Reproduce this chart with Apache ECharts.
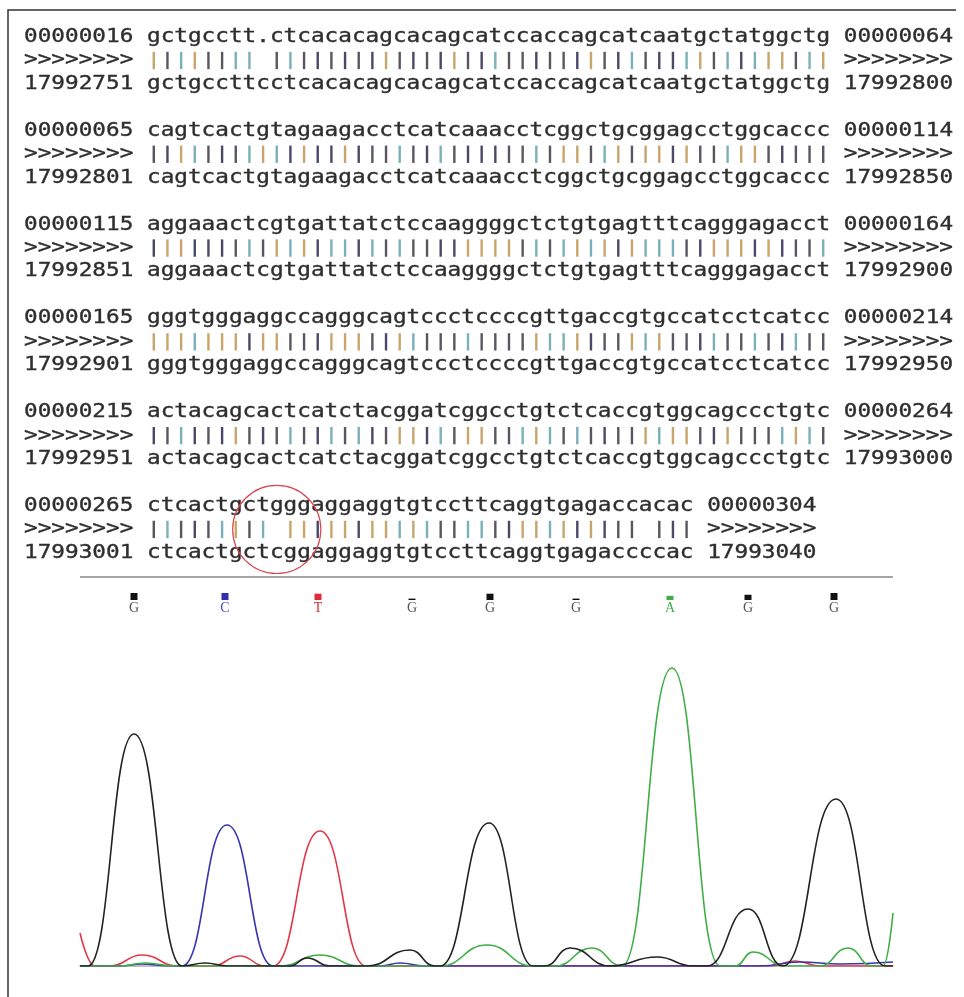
<!DOCTYPE html>
<html>
<head>
<meta charset="utf-8">
<title>Alignment and sequencing trace</title>
<script src="https://cdn.jsdelivr.net/npm/echarts@6/dist/echarts.min.js"></script>
<style>
html, body { margin: 0; padding: 0; background: #fff; }
#main { width: 964px; height: 997px; }
</style>
</head>
<body>
<div id="main"></div>
<script>
// alignment blocks (query vs genome)
var queryStart = ['00000016', '00000065', '00000115', '00000165', '00000215', '00000265'];
var queryEnd   = ['00000064', '00000114', '00000164', '00000214', '00000264', '00000304'];
var subjStart  = ['17992751', '17992801', '17992851', '17992901', '17992951', '17993001'];
var subjEnd    = ['17992800', '17992850', '17992900', '17992950', '17993000', '17993040'];
var querySeq = [
    'gctgcctt.ctcacacagcacagcatccaccagcatcaatgctatggctg',
    'cagtcactgtagaagacctcatcaaacctcggctgcggagcctggcaccc',
    'aggaaactcgtgattatctccaaggggctctgtgagtttcagggagacct',
    'gggtgggaggccagggcagtccctccccgttgaccgtgccatcctcatcc',
    'actacagcactcatctacggatcggcctgtctcaccgtggcagccctgtc',
    'ctcactgctgggaggaggtgtccttcaggtgagaccacac'
];
var subjSeq = [
    'gctgccttcctcacacagcacagcatccaccagcatcaatgctatggctg',
    'cagtcactgtagaagacctcatcaaacctcggctgcggagcctggcaccc',
    'aggaaactcgtgattatctccaaggggctctgtgagtttcagggagacct',
    'gggtgggaggccagggcagtccctccccgttgaccgtgccatcctcatcc',
    'actacagcactcatctacggatcggcctgtctcaccgtggcagccctgtc',
    'ctcactgctcggaggaggtgtccttcaggtgagaccccac'
];
// circled mismatch: block index, position in block
var markBlock = 5;
var markPos = 9;

// base calls above the trace
var callPos  = [54, 145, 238, 332, 410, 496, 590, 668, 754];
var callBase = ['G', 'C', 'T', 'G', 'G', 'G', 'A', 'G', 'G'];
var callQual = [40, 40, 36, 8, 36, 8, 24, 30, 40];

// trace extrema: [scan, signal]
var traceG = [[0,0],[8,0],[54,232],[102,0],[125,3],[148,0],[210,0],[227,8],[250,0],[287,0],[330,16],[355,0],[360,0],[409,143],[453,0],[465,0],[490,18],[530,0],[577,9],[613,0],[627,0],[668,57],[703,0],[756,167],[805,0],[813,0]];
var traceA = [[0,0],[40,0],[65,3],[95,0],[200,0],[240,11],[280,0],[360,0],[407,21],[453,0],[475,0],[512,18],[542,0],[592,298],[640,0],[655,0],[673,14],[705,0],[740,0],[768,18],[792,0],[803,0],[813,53]];
var traceC = [[0,0],[40,0],[62,2],[90,0],[102,0],[147,141],[193,0],[300,0],[320,3],[345,0],[680,0],[720,4],[760,2],[813,4]];
var traceT = [[0,33],[15,0],[30,0],[62,11],[98,0],[132,0],[160,10],[185,0],[193,0],[240,135],[286,0],[690,0],[715,5],[740,0],[813,0]];

var FONT = 19;
var barColor = { a: '#4a4868', c: '#5a5660', g: '#c8a56a', t: '#7ab0b8' };
var traceColor = { G: '#222222', A: '#3fae45', C: '#3636b0', T: '#e23848' };
var callColor = { G: '#111111', A: '#3fae45', C: '#2f2fb0', T: '#e02a3a' };
var letterColor = { G: '#555555', A: '#3fae45', C: '#4a4ac0', T: '#e02a3a' };

var chart = echarts.init(document.getElementById('main'));

function renderBlock(params, api) {
    var b = api.value(0);
    var r0 = b * 4;
    var colW = api.size([1, 0])[0];
    var rowH = api.size([0, 1])[1];
    var sx = colW / (0.602 * FONT);
    var q = querySeq[b], s = subjSeq[b];
    var children = [];

    function text(str, col, r) {
        var pt = api.coord([col, r0 + r]);
        children.push({
            type: 'text',
            x: pt[0], y: pt[1],
            scaleX: sx,
            style: {
                text: str, x: 0, y: 0,
                fill: '#2e2e2e',
                stroke: '#2e2e2e', lineWidth: 0.35,
                font: FONT + 'px "DejaVu Sans Mono"',
                align: 'left', verticalAlign: 'middle'
            }
        });
    }
    text(queryStart[b] + ' ' + q + ' ' + queryEnd[b], 0, 0);
    text('>>>>>>>>', 0, 1);
    text('>>>>>>>>', 9 + q.length + 1, 1);
    text(subjStart[b] + ' ' + s + ' ' + subjEnd[b], 0, 2);

    for (var i = 0; i < q.length; i++) {
        if (q[i] !== s[i]) continue;
        var c = api.coord([9 + i + 0.5, r0 + 1]);
        children.push({
            type: 'rect',
            shape: { x: c[0] - 1.2, y: c[1] - rowH * 0.37, width: 2.4, height: rowH * 0.74 },
            style: { fill: barColor[q[i]] }
        });
    }
    if (b === markBlock) {
        var m = api.coord([9 + markPos + 0.5, r0 + 1]);
        children.push({
            type: 'circle',
            shape: { cx: m[0], cy: m[1], r: rowH * 1.88 },
            style: { fill: 'none', stroke: '#d9474f', lineWidth: 1.2 }
        });
    }
    return { type: 'group', children: children };
}

function renderCall(params, api) {
    var i = api.value(1);
    var base = callBase[i];
    var x = api.coord([api.value(0), 0])[0];
    var top = params.coordSys.y;
    var h = Math.max(1.4, callQual[i] / 40 * 7);
    return {
        type: 'group',
        children: [
            {
                type: 'rect',
                shape: { x: x - 3.5, y: top - 66 - h, width: 7, height: h },
                style: { fill: callColor[base] }
            },
            {
                type: 'text',
                x: x, y: top - 58,
                style: {
                    text: base, fill: letterColor[base],
                    font: '14px "Liberation Serif"',
                    align: 'center', verticalAlign: 'middle'
                }
            }
        ]
    };
}

function traceSeries(data, base) {
    return {
        type: 'line',
        xAxisIndex: 1,
        yAxisIndex: 1,
        data: data,
        smooth: 0.5,
        smoothMonotone: 'x',
        showSymbol: false,
        silent: true,
        lineStyle: { color: traceColor[base], width: 1.6 }
    };
}

var blockData = querySeq.map(function (q, b) { return [b, b * 4]; });
var callData = callPos.map(function (p, i) { return [p, i]; });

var option = {
    animation: false,
    grid: [
        { left: 24, right: 11, top: 25.3, bottom: 432.4 },
        { left: 80, right: 71, top: 666, bottom: 31 }
    ],
    xAxis: [
        { type: 'value', gridIndex: 0, min: 0, max: 68, show: false },
        {
            type: 'value', gridIndex: 1, min: 0, max: 813,
            axisLine: { show: true, onZero: false, lineStyle: { color: '#aaaaaa', width: 1.5 } },
            axisTick: { show: false }, axisLabel: { show: false }, splitLine: { show: false }
        }
    ],
    yAxis: [
        { type: 'value', gridIndex: 0, min: -0.5, max: 22.5, inverse: true, show: false },
        { type: 'value', gridIndex: 1, min: 0, max: 300, show: false }
    ],
    graphic: [
        {
            type: 'polyline',
            shape: { points: [[8, 997], [8, 10], [956, 10]] },
            style: { stroke: '#333', lineWidth: 1.5, fill: null }
        },
        {
            type: 'line',
            shape: { x1: 80, y1: 577, x2: 893, y2: 577 },
            style: { stroke: '#888', lineWidth: 1.5 }
        }
    ],
    series: [
        {
            type: 'custom',
            xAxisIndex: 0, yAxisIndex: 0,
            data: blockData,
            encode: { x: 0, y: 1 },
            renderItem: renderBlock,
            clip: false,
            silent: true
        },
        traceSeries(traceT, 'T'),
        traceSeries(traceC, 'C'),
        traceSeries(traceA, 'A'),
        traceSeries(traceG, 'G'),
        {
            type: 'custom',
            xAxisIndex: 1, yAxisIndex: 1,
            data: callData,
            encode: { x: 0 },
            renderItem: renderCall,
            clip: false,
            silent: true
        }
    ]
};
chart.setOption(option);
</script>
</body>
</html>
